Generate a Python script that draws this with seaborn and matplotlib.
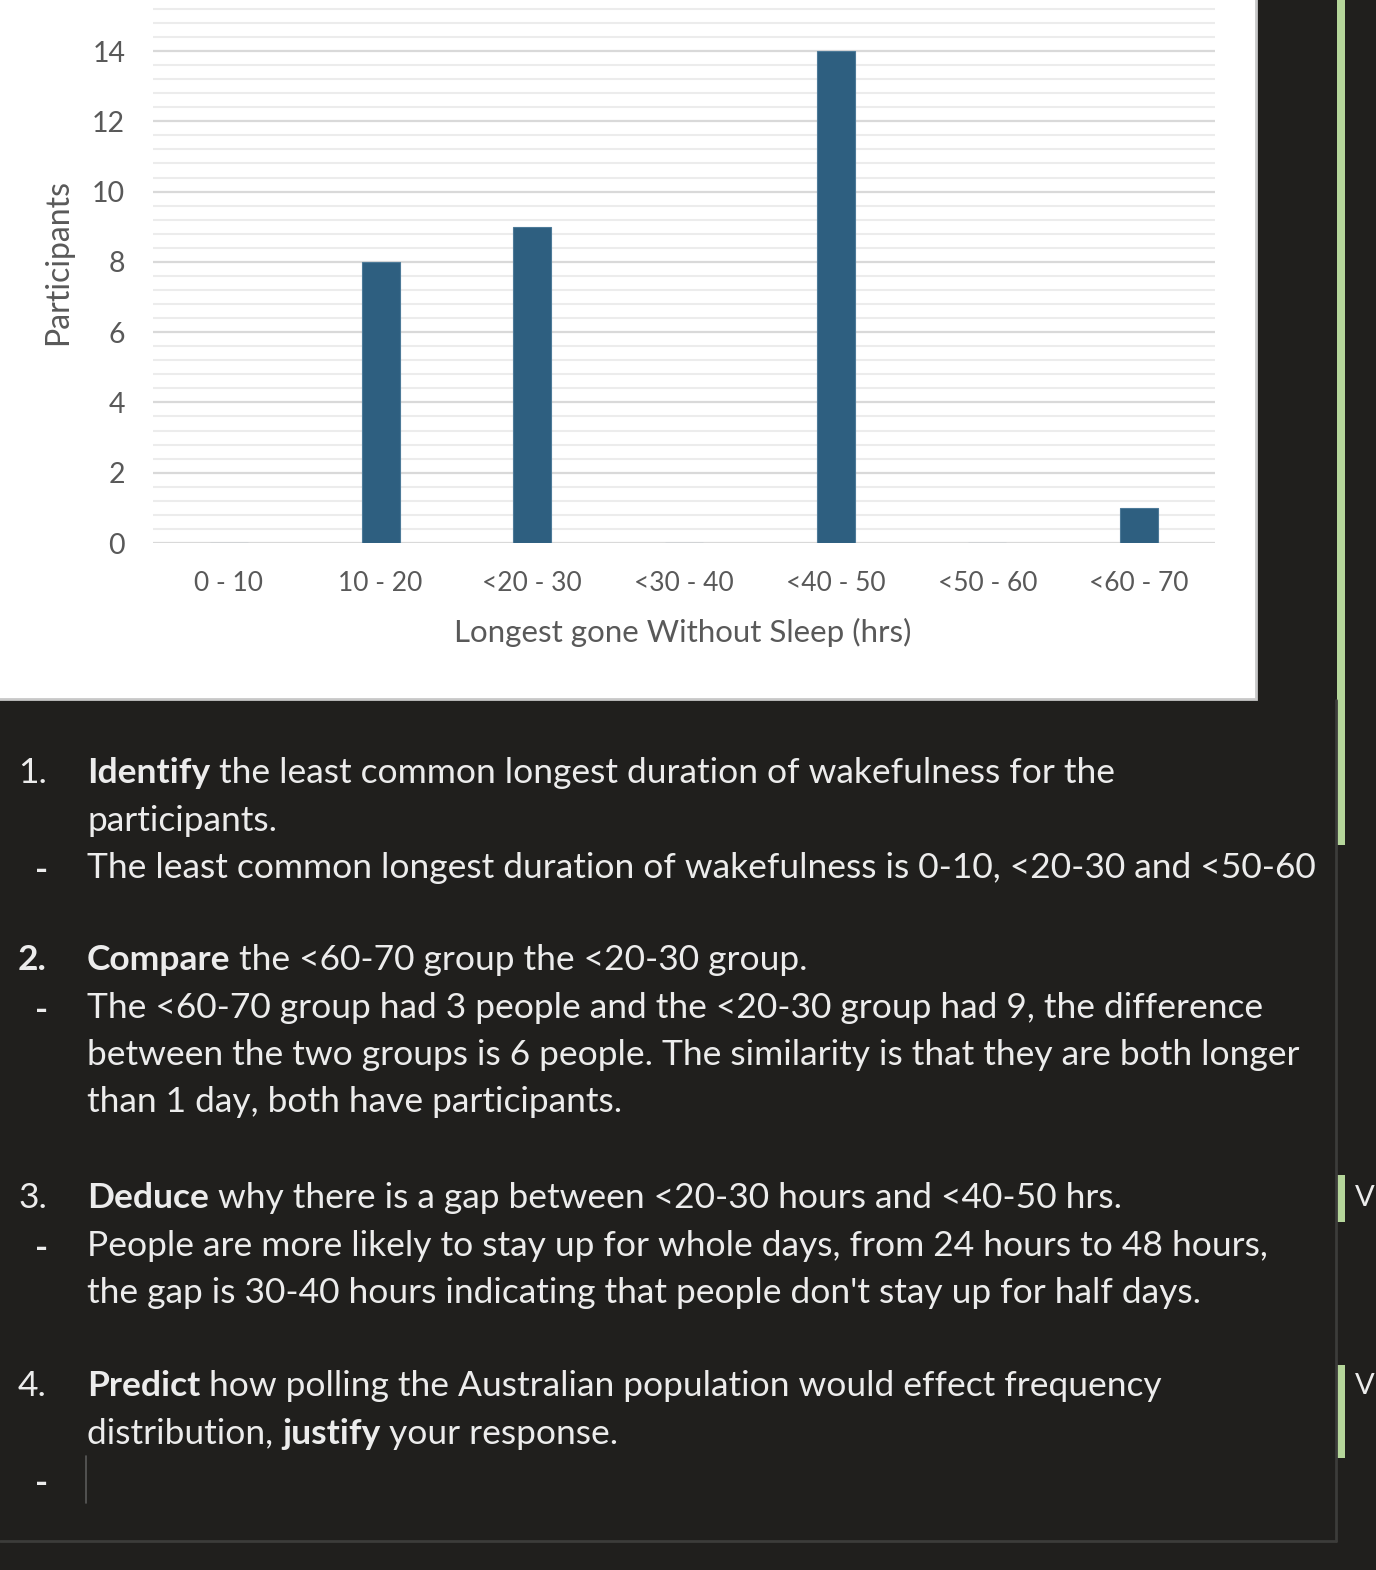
import numpy as np
import matplotlib
matplotlib.use("Agg")
import matplotlib.pyplot as plt
from matplotlib.patches import Rectangle
from matplotlib.lines import Line2D
import seaborn as sns

# chart data
categories = ["0 - 10", "10 - 20", "<20 - 30", "<30 - 40", "<40 - 50", "<50 - 60", "<60 - 70"]
participants = [0, 8, 9, 0, 14, 0, 1]
y_ticks = [0, 2, 4, 6, 8, 10, 12, 14]

# worksheet text below the chart: (number, bold word, rest, continuation, answers)
questions = [
    ("1.", "Identify", " the least common longest duration of wakefulness for the",
     ["participants."],
     ["The least common longest duration of wakefulness is 0-10, <20-30 and <50-60"]),
    ("2.", "Compare", " the <60-70 group the <20-30 group.", [],
     ["The <60-70 group had 3 people and the <20-30 group had 9, the difference",
      "between the two groups is 6 people. The similarity is that they are both longer",
      "than 1 day, both have participants."]),
    ("3.", "Deduce", " why there is a gap between <20-30 hours and <40-50 hrs.", [],
     ["People are more likely to stay up for whole days, from 24 hours to 48 hours,",
      "the gap is 30-40 hours indicating that people don't stay up for half days."]),
    ("4.", "Predict", " how polling the Australian population would effect frequency", None,
     [""]),
]
q_tops = [773, 960, 1198, 1386]

W, H = 1376, 1570
DARK = "#201f1d"
TXT = "#ececec"

sns.set_theme(style="white")
plt.rcParams["font.family"] = ["Lato", "DejaVu Sans"]

fig = plt.figure(figsize=(W / 100, H / 100), dpi=100, facecolor=DARK)


def fx(px):
    return px / W


def fy(py):
    return 1 - py / H


# white chart panel with grey edge (top and left edges run off the picture)
fig.patches.append(Rectangle((fx(-10), fy(699)), fx(1266), 709 / H, transform=fig.transFigure,
                             facecolor="white", edgecolor="#c8c8c8", linewidth=2, zorder=-10))

ax = fig.add_axes([fx(153), fy(543), fx(1215 - 153), 543 / H])
df = {"cat": categories, "val": participants}
sns.barplot(x="cat", y="val", data=df, color="#2e5f80", width=0.25, saturation=1,
            edgecolor="#4d7a98", linewidth=0.8, ax=ax, zorder=3)
ax.set_xlim(-0.5, 6.5)
ax.set_ylim(0, 543 / 35.14)
ax.set_yticks(y_ticks)
minor = [v for v in np.arange(0, 15.4, 0.4) if abs(v / 2 - round(v / 2)) > 0.01]
ax.set_yticks(minor, minor=True)
ax.grid(which="major", axis="y", color="#d9d9d9", linewidth=1.6, zorder=1)
ax.grid(which="minor", axis="y", color="#ececec", linewidth=1.5, zorder=1)
ax.set_axisbelow(True)
for s in ax.spines.values():
    s.set_visible(False)
ax.tick_params(axis="both", which="both", length=0, colors="#595959")
ax.tick_params(axis="y", pad=20, labelsize=20.5)
ax.tick_params(axis="x", pad=20, labelsize=19)
ax.set_xlabel("")
ax.set_ylabel("")
ax.patch.set_alpha(0)

fig.text(fx(58), fy(262), "Participants", rotation=90, ha="center", va="center",
         color="#595959", fontsize=23)
fig.text(fx(683), fy(632), "Longest gone Without Sleep (hrs)", ha="center", va="center",
         color="#595959", fontsize=22.5)

# text area border and green change bars
fig.add_artist(Line2D([fx(1336), fx(1336)], [fy(700), fy(1541)], color="#3c3c3a", lw=2))
fig.add_artist(Line2D([0, fx(1336)], [fy(1541), fy(1541)], color="#3c3c3a", lw=2))
for y0, y1 in [(0, 845), (1175, 1222), (1365, 1458)]:
    fig.patches.append(Rectangle((fx(1337), fy(y1)), fx(8), (y1 - y0) / H,
                                 transform=fig.transFigure, facecolor="#b5d69a",
                                 edgecolor="none"))
for yy in [1198, 1386]:
    fig.text(fx(1355), fy(yy), "V", ha="left", va="center", color=TXT, fontsize=21)

FS = 25.5
LH = 47.5
renderer = fig.canvas.get_renderer()


def rich(x_px, y_px, parts):
    x = fx(x_px)
    for s, bold in parts:
        t = fig.text(x, fy(y_px), s, ha="left", va="center", color=TXT, fontsize=FS,
                     fontweight="bold" if bold else "normal")
        bb = t.get_window_extent(renderer)
        x = bb.x1 / W


for (num, bword, rest, cont, answers), top in zip(questions, q_tops):
    fig.text(fx(18), fy(top), num, ha="left", va="center", color=TXT, fontsize=FS,
             fontweight="bold" if num == "2." else "normal")
    rich(87, top, [(bword, True), (rest, False)])
    y = top
    if cont is None:
        y += LH
        rich(87, y, [("distribution, ", False), ("justify", True), (" your response.", False)])
    else:
        for c in cont:
            y += LH
            rich(87, y, [(c, False)])
    for i, a in enumerate(answers):
        y += LH
        if i == 0:
            fig.text(fx(42), fy(y + 3), "-", ha="center", va="center", color=TXT,
                     fontsize=FS, fontweight="bold")
        if a:
            rich(87, y, [(a, False)])
        else:
            fig.add_artist(Line2D([fx(86), fx(86)], [fy(y - 25), fy(y + 22)],
                                  color="#5a5a5a", lw=1.2))

fig.savefig("out.png", dpi=100, facecolor=DARK)
